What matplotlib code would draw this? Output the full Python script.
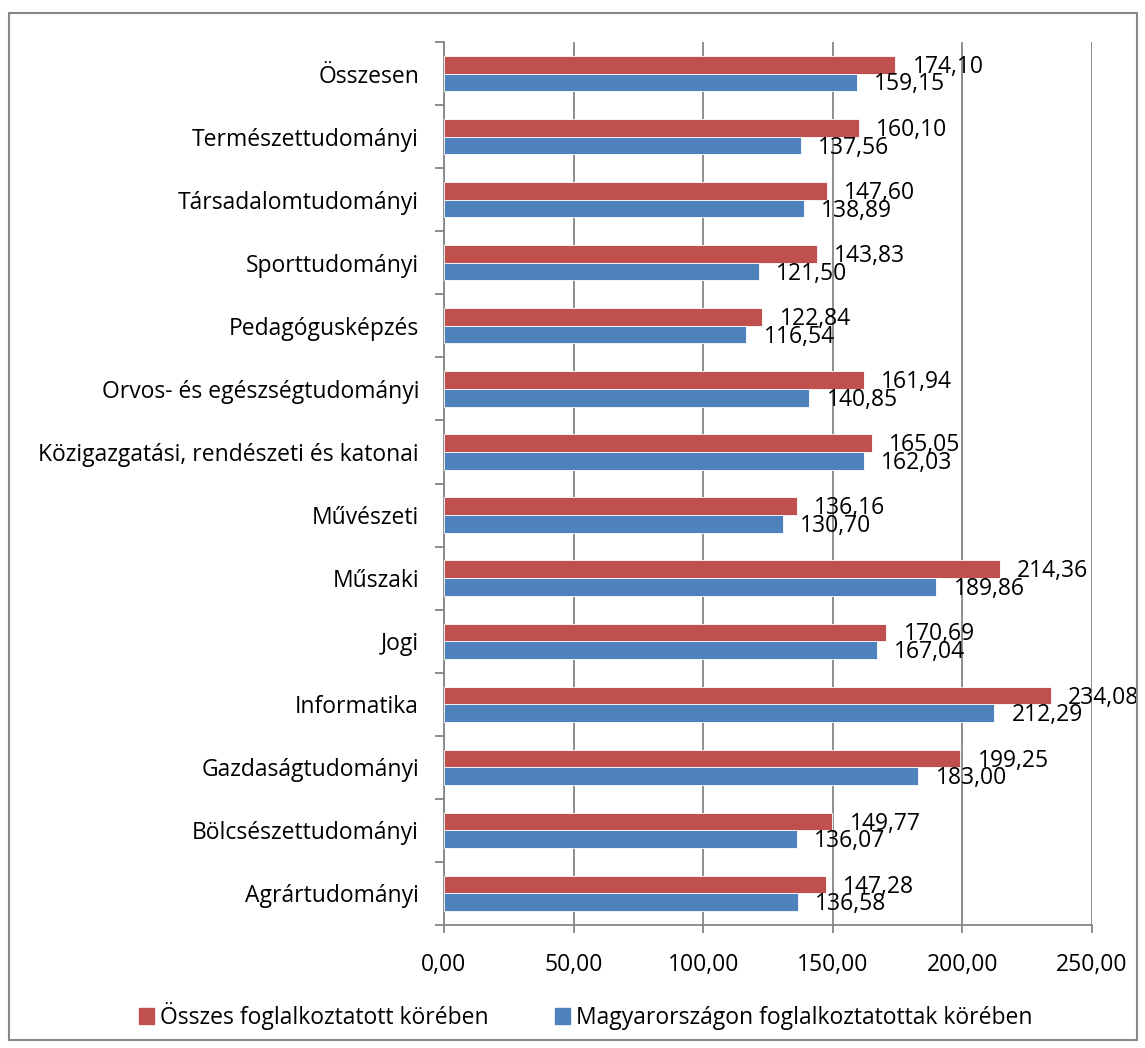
import numpy as np
import matplotlib.pyplot as plt
from matplotlib.patches import Rectangle

plt.rcParams['font.family'] = ['Open Sans', 'DejaVu Sans']

# categories, bottom to top
categories = ['Agrártudományi', 'Bölcsészettudományi', 'Gazdaságtudományi', 'Informatika',
              'Jogi', 'Műszaki', 'Művészeti', 'Közigazgatási, rendészeti és katonai',
              'Orvos- és egészségtudományi', 'Pedagógusképzés', 'Sporttudományi',
              'Társadalomtudományi', 'Természettudományi', 'Összesen']
osszes = [147.28, 149.77, 199.25, 234.08, 170.69, 214.36, 136.16, 165.05,
          161.94, 122.84, 143.83, 147.60, 160.10, 174.10]
magyar = [136.58, 136.07, 183.00, 212.29, 167.04, 189.86, 130.70, 162.03,
          140.85, 116.54, 121.50, 138.89, 137.56, 159.15]
series_names = ['Összes foglalkoztatott körében', 'Magyarországon foglalkoztatottak körében']
xticks = [0, 50, 100, 150, 200, 250]

RED = '#C0504D'
BLUE = '#4F81BD'
GRID = '#868686'
FS = 16.5

W, H = 1145, 1048
fig = plt.figure(figsize=(W / 100, H / 100), dpi=100)
ax = fig.add_axes([444 / W, 1 - 925 / H, (1092 - 444) / W, (925 - 42) / H])

y = np.arange(len(categories))
bh = 0.28
ax.barh(y + bh / 2, osszes, height=bh, color=RED, edgecolor='white', linewidth=0.6, zorder=3)
ax.barh(y - bh / 2, magyar, height=bh, color=BLUE, edgecolor='white', linewidth=0.6, zorder=3)

def fmt(v):
    return ('%.2f' % v).replace('.', ',')

# data labels: offset right of the bar end, slightly below centre (like Excel)
for yi, v in zip(y, osszes):
    ax.annotate(fmt(v), (v, yi + bh / 2), xytext=(12.5, -1.5), textcoords='offset points',
                ha='left', va='center', fontsize=FS, zorder=4)
for yi, v in zip(y, magyar):
    ax.annotate(fmt(v), (v, yi - bh / 2), xytext=(12.5, -1.5), textcoords='offset points',
                ha='left', va='center', fontsize=FS, zorder=4)

ax.set_xlim(0, 250)
ax.set_ylim(-0.5, len(categories) - 0.5)
ax.set_xticks(xticks)
ax.set_xticklabels([fmt(t) for t in xticks], fontsize=FS)
ax.set_yticks(y)
ax.set_yticklabels(categories, fontsize=FS)
ax.tick_params(axis='y', length=0, pad=18)
ax.set_yticks(np.arange(len(categories) + 1) - 0.5, minor=True)
ax.tick_params(axis='y', which='minor', length=6.5, color=GRID, width=1.3)
ax.tick_params(axis='x', length=6, color=GRID, width=1.3, pad=14)

ax.grid(axis='x', color=GRID, linewidth=1.3, zorder=0)
for s in ['top', 'right']:
    ax.spines[s].set_visible(False)
for s in ['left', 'bottom']:
    ax.spines[s].set_color(GRID)
    ax.spines[s].set_linewidth(1.3)

handles = [Rectangle((0, 0), 1, 1, color=RED), Rectangle((0, 0), 1, 1, color=BLUE)]
fig.legend(handles, series_names, loc='center', bbox_to_anchor=(586 / W, 1 - 1016 / H),
           ncol=2, frameon=False, fontsize=FS, handlelength=0.65, handleheight=0.65,
           handletextpad=0.26, columnspacing=2.9)

fig.patches.append(Rectangle((9 / W, 1 - 1040 / H), (1137 - 9) / W, (1040 - 13) / H,
                             transform=fig.transFigure, fill=False, edgecolor=GRID,
                             linewidth=1.5))

fig.savefig('out.png', dpi=100)
